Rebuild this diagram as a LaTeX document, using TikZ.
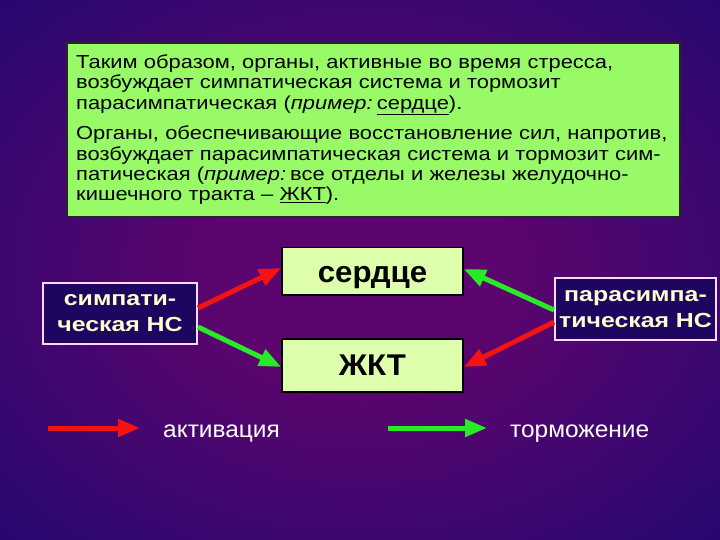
\documentclass[tikz,border=0pt]{standalone}
\usepackage{fontspec}
\setmainfont{Liberation Sans}
\newfontfamily\widefont[FakeStretch=1.165]{Liberation Sans}
\newfontfamily\ncfont[FakeStretch=1.22]{Liberation Sans}
\newfontfamily\organfont[FakeStretch=1.04]{Liberation Sans}
\newfontfamily\legendfont[FakeStretch=1.04]{Liberation Sans}
\usetikzlibrary{arrows.meta}
\definecolor{bgin}{RGB}{92,5,110}
\definecolor{bgout}{RGB}{16,10,112}
\definecolor{txtgreen}{RGB}{153,250,104}
\definecolor{organfill}{RGB}{222,255,172}
\definecolor{ncfill}{RGB}{30,5,96}
\definecolor{ncborder}{RGB}{255,215,255}
\definecolor{nctext}{RGB}{255,255,205}
\definecolor{actred}{RGB}{245,18,18}
\definecolor{inhgreen}{RGB}{40,235,40}
\pgfdeclareradialshading{bgshade}{\pgfpoint{0bp}{0bp}}{color(0bp)=(bgin); color(10bp)=(bgin); color(46bp)=(bgout); color(50bp)=(bgout)}
\tikzset{
  organ/.style={draw=black, line width=1.5pt, fill=organfill, inner sep=0pt,
    minimum width=181pt, font=\organfont\bfseries\fontsize{30}{36}\selectfont, text depth=0pt},
  ncbox/.style={draw=ncborder, line width=2pt, fill=ncfill, inner sep=0pt, text=nctext,
    align=center, font=\ncfont\bfseries\fontsize{20.4}{26}\selectfont},
  actarrow/.style={draw=actred, line width=5pt, -{Triangle[length=22pt,width=17pt]}},
  inharrow/.style={draw=inhgreen, line width=5pt, -{Triangle[length=22pt,width=17pt]}},
  legendtext/.style={text=white, inner sep=0pt, font=\legendfont\fontsize{23.5}{27}\selectfont},
}
\begin{document}
\begin{tikzpicture}[x=1pt,y=-1pt]
\useasboundingbox (0,0) rectangle (720,540);
\shade[shading=bgshade] (0,0) rectangle (720,540);

% text panel
\draw[fill=txtgreen, draw=black!85, line width=1.2pt] (67,43) rectangle (680,217);
\node[anchor=north west, inner sep=0pt, text width=600pt, align=left,
      font=\widefont\fontsize{18.8}{20.3}\selectfont] (txt) at (76,54.5)
 {Таким образом, органы, активные во время стресса,\\
  возбуждает симпатическая система и тормозит\\
  парасимпатическая (\textit{пример:}\hspace{0.22em}\underline{сердце}).\\[10.5pt]
  Органы, обеспечивающие восстановление сил, напротив,\\
  возбуждает парасимпатическая система и тормозит сим-\\
  патическая (\textit{пример:}\hspace{0.22em}все отделы и железы желудочно-\\
  кишечного тракта – \underline{ЖКТ}).};

% organs
\node[organ, minimum height=47.5pt, text height=22pt] (heart) at (372.5,271) {сердце};
\node[organ, minimum height=53pt, text height=19pt] (gkt) at (372.5,365.5) {ЖКТ};

% nervous systems
\node[ncbox, minimum width=154pt, minimum height=61pt, text width=150pt] (symp) at (120,313.5) {симпати-\\ческая НС};
\node[ncbox, minimum width=161pt, minimum height=62pt, text width=157pt] (para) at (635.5,309) {парасимпа-\\тическая НС};

% connectors
\draw[actarrow] ([yshift=5.5pt]symp.east) -- ([yshift=3pt]heart.west);
\draw[inharrow] ([yshift=-13.5pt]symp.east) -- ([yshift=-1.5pt]gkt.west);
\draw[inharrow] ([yshift=-1pt]para.west) -- ([yshift=2pt]heart.east);
\draw[actarrow] ([yshift=-13pt]para.west) -- ([yshift=-1.5pt]gkt.east);

% legend
\coordinate (r1) at (48,428);
\coordinate (r2) at (140,428);
\draw[actarrow] (r1) -- (r2);
\node[legendtext, anchor=base west] (act) at (163,437.3) {активация};
\coordinate (g1) at (388,428);
\coordinate (g2) at (487,428);
\draw[inharrow] (g1) -- (g2);
\node[legendtext, anchor=base west] (inh) at (510,437.3) {торможение};
\end{tikzpicture}
\end{document}
